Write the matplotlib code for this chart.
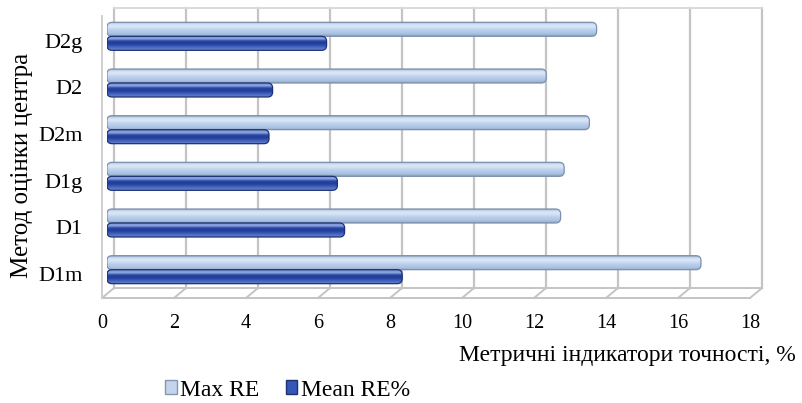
import matplotlib
matplotlib.use('Agg')
import matplotlib.pyplot as plt
import numpy as np
from matplotlib.colors import LinearSegmentedColormap
from matplotlib.patches import Patch, FancyBboxPatch

# data
categories = ['D1m', 'D1', 'D1g', 'D2m', 'D2', 'D2g']
max_re = [16.5, 12.6, 12.7, 13.4, 12.2, 13.6]
mean_re = [8.2, 6.6, 6.4, 4.5, 4.6, 6.1]
x_ticks = [0, 2, 4, 6, 8, 10, 12, 14, 16, 18]
series_names = ['Max RE', 'Mean RE%']
x_title = 'Метричні індикатори точності, %'
y_title = 'Метод оцінки центра'

plt.rcParams['font.family'] = ['Liberation Serif', 'DejaVu Serif']

# figure parameters
W, H = 803, 403
TICK_SIZE = 14.5
CAT_SIZE = 16
LABEL_SIZE = 17
YLABEL_SIZE = 18
LEGEND_SIZE = 17
GRID_C = '#c4c4c4'

fig = plt.figure(figsize=(W / 100., H / 100.), dpi=100)
# bar plane of the "3d" chart, in pixels
X0, X1, YT, YB = 107, 755, 13, 293
ax = fig.add_axes([X0 / W, 1 - YB / H, (X1 - X0) / W, (YB - YT) / H])
xmax = x_ticks[-1]
n = len(categories)
px = xmax / float(X1 - X0)
py = n / float(YB - YT)
wall = (7 * px, 5 * py)     # back wall offset
front = (-5 * px, -5 * py)  # front floor edge offset
ybot, ytop = -0.5, n - 0.5

# 1st: back wall, floor
for v in x_ticks:
    ax.plot([v + wall[0]] * 2, [ybot + wall[1], ytop + wall[1]], color=GRID_C, lw=1.6,
            clip_on=False, zorder=0)
    ax.plot([v + wall[0], v + front[0]], [ybot + wall[1], ybot + front[1]], color=GRID_C,
            lw=1.4, clip_on=False, zorder=0)
ax.plot([wall[0], xmax + wall[0]], [ytop + wall[1]] * 2, color='#dadada', lw=1.4,
        clip_on=False, zorder=0)
ax.plot([wall[0], xmax + wall[0]], [ybot + wall[1]] * 2, color=GRID_C, lw=1.4,
        clip_on=False, zorder=0)
ax.plot([front[0], xmax + front[0]], [ybot + front[1]] * 2, color=GRID_C, lw=1.4,
        clip_on=False, zorder=0)
ax.plot([front[0]] * 2, [ybot + front[1], ytop - 3 * py], color='#cfcfcf', lw=1.4,
        clip_on=False, zorder=0)

# 2nd: cylinder-like bars with rounded ends
cmap_max = LinearSegmentedColormap.from_list('max', [
    (0.0, '#8ea3c4'), (0.15, '#a9c0e0'), (0.45, '#bcd1ee'),
    (0.7, '#dce8f7'), (0.88, '#cfdef2'), (1.0, '#93a8c8')])
cmap_mean = LinearSegmentedColormap.from_list('mean', [
    (0.0, '#6d84bf'), (0.2, '#4766c2'), (0.45, '#1f3c98'),
    (0.65, '#2645a3'), (0.82, '#93abe6'), (1.0, '#7089c8')])
grad = np.linspace(0, 1, 64).reshape(-1, 1)
h = 0.3
r = 5 * px  # corner radius, 5 px
for vals, cmap, off, edge in [(max_re, cmap_max, 0.15, '#7d90ad'),
                              (mean_re, cmap_mean, -0.15, '#1d3276')]:
    for i, val in enumerate(vals):
        y0 = i + off - h / 2
        box = FancyBboxPatch((0, y0), val, h, boxstyle='round,pad=0,rounding_size=%f' % r,
                             mutation_aspect=py / px, facecolor='none', edgecolor=edge,
                             lw=0.9, zorder=3)
        ax.add_patch(box)
        im = ax.imshow(grad, cmap=cmap, extent=[0, val, y0, y0 + h], aspect='auto',
                       origin='lower', interpolation='bicubic', zorder=2)
        im.set_clip_path(box)

ax.set_xlim(0, xmax)
ax.set_ylim(ybot, ytop)
ax.set_axis_off()

# 3rd: tick labels, titles, legend
for i, cat in enumerate(categories):
    ax.text(-24 * px, i - 7 * py, cat, ha='right', va='center', fontsize=CAT_SIZE)
for v in x_ticks:
    ax.text(v + front[0], ybot + front[1] - 25 * py, str(v), ha='center', va='center',
            fontsize=TICK_SIZE)

fig.text(796. / W, 1 - 355. / H, x_title, ha='right', va='center', fontsize=LABEL_SIZE)
fig.text(22. / W, 1 - 165. / H, y_title, rotation=90, ha='center', va='center',
         fontsize=YLABEL_SIZE)

handles = [Patch(facecolor='#c3d4ec', edgecolor='#8596b0'),
           Patch(facecolor='#3557b5', edgecolor='#1d3276')]
fig.legend(handles, series_names, loc='center left', bbox_to_anchor=(165. / W, 1 - 390. / H),
           ncol=2, frameon=False, handlelength=0.5, handleheight=0.5, handletextpad=0.15,
           columnspacing=1.1, fontsize=LEGEND_SIZE, borderaxespad=0, borderpad=0)

fig.savefig('out.png', dpi=100)
